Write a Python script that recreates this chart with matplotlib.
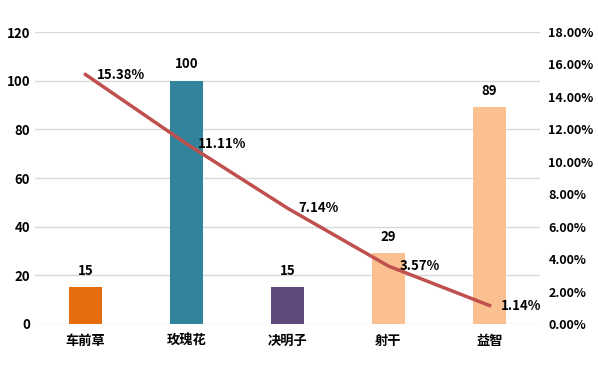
import matplotlib.pyplot as plt
from matplotlib.ticker import FuncFormatter

plt.rcParams['font.family'] = ['Noto Sans CJK SC', 'DejaVu Sans']

herbs = ['车前草', '玫瑰花', '决明子', '射干', '益智']
counts = [15, 100, 15, 29, 89]
ratios = [15.38, 11.11, 7.14, 3.57, 1.14]
bar_colors = ['#E46C0A', '#31849B', '#604A7B', '#FAC090', '#FAC090']

fig = plt.figure(figsize=(5.98, 3.74), dpi=100)
ax = fig.add_axes([0.0585, 0.1337, 0.903 - 0.0585, 0.9144 - 0.1337])
x = list(range(len(herbs)))

ax.bar(x, counts, width=0.32, color=bar_colors, zorder=2)
for i, v in enumerate(counts):
    ax.annotate(str(v), (i, v), xytext=(0, 7), textcoords='offset points',
                ha='center', va='bottom', fontsize=9.5, fontweight='bold')

ax.set_ylim(0, 120)
ax.set_xlim(-0.5, len(herbs) - 0.5)
ax.set_yticks(range(0, 121, 20))
ax.set_xticks(x)
ax.set_xticklabels(herbs, fontsize=9.5, fontweight='bold')
ax.grid(axis='y', color='#D9D9D9', linewidth=1, zorder=0)
ax.tick_params(length=0, labelsize=9.5)
ax.tick_params(axis='x', pad=7)
for lab in ax.get_yticklabels():
    lab.set_fontweight('bold')
for s in ax.spines.values():
    s.set_visible(False)

ax2 = ax.twinx()
ax2.plot(x, ratios, color='#C0504D', linewidth=2.5, zorder=3)
for i, r in enumerate(ratios):
    ax2.annotate(f'{r:.2f}%', (i, r), xytext=(8, 0), textcoords='offset points',
                 ha='left', va='center', fontsize=9.5, fontweight='bold')
ax2.set_ylim(0, 18)
ax2.set_yticks(range(0, 19, 2))
ax2.yaxis.set_major_formatter(FuncFormatter(lambda v, p: f'{v:.2f}%'))
ax2.tick_params(length=0, labelsize=9, pad=6)
for lab in ax2.get_yticklabels():
    lab.set_fontweight('bold')
for s in ax2.spines.values():
    s.set_visible(False)

fig.savefig('out.png', dpi=100)
